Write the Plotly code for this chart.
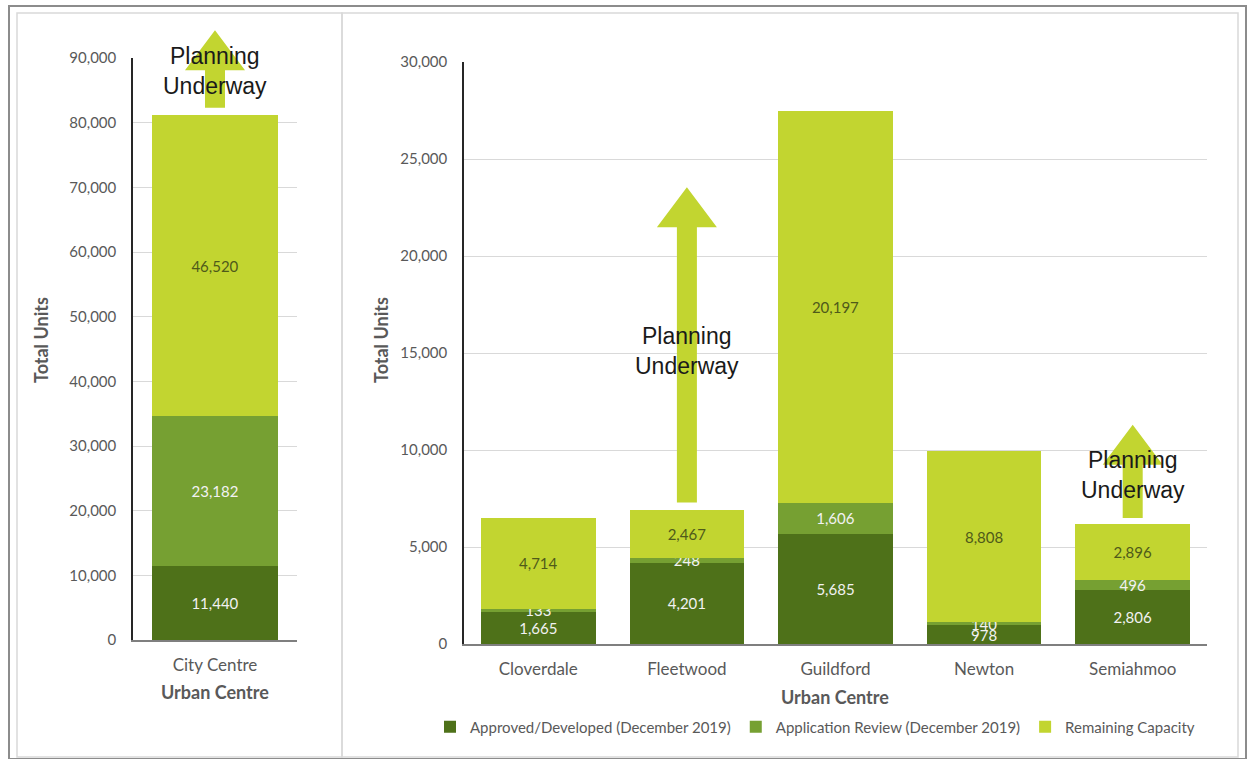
import plotly.graph_objects as go

W, H = 1247, 759
FONT = "Lato"
ARROW_FONT = "Liberation Sans"

# ---------------- data ----------------
series_names = ["Approved/Developed (December 2019)",
                "Application Review (December 2019)",
                "Remaining Capacity"]

city_centre = ["City Centre"]
city_approved = [11440]
city_review = [23182]
city_remaining = [46520]

centres = ["Cloverdale", "Fleetwood", "Guildford", "Newton", "Semiahmoo"]
approved = [1665, 4201, 5685, 978, 2806]
review = [133, 248, 1606, 140, 496]
remaining = [4714, 2467, 20197, 8808, 2896]

left_ticks = [0, 10000, 20000, 30000, 40000, 50000, 60000, 70000, 80000, 90000]
right_ticks = [0, 5000, 10000, 15000, 20000, 25000, 30000]

# "Planning Underway" arrows: (panel, category index, base value, tip value, label value)
arrows = [
    ("left", 0, 82300, 94300, 88000),
    ("right", 1, 7300, 23550, 15100),
    ("right", 4, 6500, 11300, 8700),
]

# ---------------- styles ----------------
colors = ["#4E7119", "#76A032", "#C2D530"]
label_colors = ["#F2F2F2", "#F2F2F2", "#4F5A1A"]
GREY = "#595959"

# plot areas in pixels (left, right, bottom, top)
panels = {
    "left": dict(x0=133, x1=297, yb=640, yt=58, n=1, ymax=90000, xa="x", ya="y"),
    "right": dict(x0=464, x1=1207, yb=644, yt=62, n=5, ymax=30000, xa="x2", ya="y2"),
}


def px_x(px):
    return px / W


def px_y(py):
    return 1 - py / H


fig = go.Figure()


def add_stack(xs, vals_list, xa, ya, showlegend):
    for name, vals, c, tc in zip(series_names, vals_list, colors, label_colors):
        fig.add_trace(go.Bar(
            x=xs, y=vals, name=name,
            marker=dict(color=c, line=dict(width=0)),
            width=0.77, xaxis=xa, yaxis=ya,
            showlegend=showlegend, legendgroup=name,
            texttemplate="%{y:,}", textposition="inside",
            insidetextanchor="middle", constraintext="none", textangle=0,
            textfont=dict(family=FONT, size=15, color=tc),
            hoverinfo="skip",
        ))


add_stack(list(range(len(city_centre))), [city_approved, city_review, city_remaining], "x", "y", False)
add_stack(list(range(len(centres))), [approved, review, remaining], "x2", "y2", True)

axis_common = dict(showgrid=False, showline=True, linecolor="#7F7F7F", linewidth=1.5,
                   ticks="", tickfont=dict(family=FONT, size=17, color=GREY),
                   zeroline=False, fixedrange=True, ticklabelstandoff=9, automargin=False)
yaxis_common = dict(showgrid=True, gridcolor="#D9D9D9", gridwidth=1, showline=True,
                    linecolor="#262626", linewidth=1.5, ticks="", tickformat=",",
                    tickfont=dict(family=FONT, size=15, color=GREY), zeroline=False,
                    fixedrange=True, ticklabelstandoff=12, automargin=False)

L, R = panels["left"], panels["right"]
fig.update_layout(
    width=W, height=H,
    margin=dict(l=0, r=0, t=0, b=0, pad=0, autoexpand=False),
    paper_bgcolor="white", plot_bgcolor="white",
    barmode="stack",
    xaxis=dict(axis_common, domain=[px_x(L["x0"]), px_x(L["x1"])], anchor="y",
               range=[-0.5, 0.5], tickvals=list(range(len(city_centre))), ticktext=city_centre),
    yaxis=dict(yaxis_common, domain=[px_y(L["yb"]), px_y(L["yt"])], anchor="x",
               range=[0, L["ymax"]], tickvals=left_ticks),
    xaxis2=dict(axis_common, domain=[px_x(R["x0"]), px_x(R["x1"])], anchor="y2",
                range=[-0.5, len(centres) - 0.5], tickvals=list(range(len(centres))), ticktext=centres),
    yaxis2=dict(yaxis_common, domain=[px_y(R["yb"]), px_y(R["yt"])], anchor="x2",
                range=[0, R["ymax"]], tickvals=right_ticks),
    legend=dict(orientation="h", x=px_x(815), xanchor="center", y=px_y(727), yanchor="middle",
                font=dict(family=FONT, size=15, color=GREY), bgcolor="rgba(0,0,0,0)",
                traceorder="normal"),
    showlegend=True,
)

shapes = []
# frames
shapes.append(dict(type="rect", xref="paper", yref="paper", x0=px_x(9), x1=px_x(1246), y0=px_y(759), y1=px_y(6),
                   line=dict(color="#8C8C8C", width=2), layer="below"))
shapes.append(dict(type="rect", xref="paper", yref="paper", x0=px_x(17), x1=px_x(342), y0=px_y(757), y1=px_y(13),
                   line=dict(color="#D9D9D9", width=1.5), layer="below"))
shapes.append(dict(type="rect", xref="paper", yref="paper", x0=px_x(342), x1=px_x(1238), y0=px_y(757), y1=px_y(13),
                   line=dict(color="#D9D9D9", width=1.5), layer="below"))

annotations = []
for panel, idx, base, tip, label_v in arrows:
    p = panels[panel]
    cx = p["x0"] + (idx + 0.5) / p["n"] * (p["x1"] - p["x0"])

    def vy(v, p=p):
        return p["yb"] - v / p["ymax"] * (p["yb"] - p["yt"])

    y_base, y_tip = vy(base), vy(tip)
    head_h, head_hw, shaft_hw = 40, 30, 10
    y_head = y_tip + head_h
    pts = [(cx - shaft_hw, y_base), (cx - shaft_hw, y_head), (cx - head_hw, y_head), (cx, y_tip),
           (cx + head_hw, y_head), (cx + shaft_hw, y_head), (cx + shaft_hw, y_base)]
    path = "M " + " L ".join(f"{px_x(a):.5f},{px_y(b):.5f}" for a, b in pts) + " Z"
    shapes.append(dict(type="path", xref="paper", yref="paper", path=path,
                       fillcolor=colors[2], line=dict(width=0), layer="above"))
    annotations.append(dict(xref=p["xa"], yref=p["ya"], x=idx, y=label_v, text="Planning<br>Underway",
                            showarrow=False, font=dict(family=ARROW_FONT, size=23, color="#1A1A1A"),
                            xanchor="center", yanchor="middle"))

# axis titles
title_font_y = dict(family=FONT, size=18, color=GREY)
title_font_x = dict(family=FONT, size=18, color=GREY)
annotations += [
    dict(xref="paper", yref="paper", x=px_x(41), y=px_y(340), text="<b>Total Units</b>", textangle=-90,
         showarrow=False, font=title_font_y, xanchor="center", yanchor="middle"),
    dict(xref="paper", yref="paper", x=px_x(381), y=px_y(340), text="<b>Total Units</b>", textangle=-90,
         showarrow=False, font=title_font_y, xanchor="center", yanchor="middle"),
    dict(xref="paper", yref="paper", x=px_x(215), y=px_y(692), text="<b>Urban Centre</b>",
         showarrow=False, font=title_font_x, xanchor="center", yanchor="middle"),
    dict(xref="paper", yref="paper", x=px_x(835), y=px_y(697), text="<b>Urban Centre</b>",
         showarrow=False, font=title_font_x, xanchor="center", yanchor="middle"),
]

fig.update_layout(shapes=shapes, annotations=annotations)
fig.write_html(
    "out.html",
    config={"displayModeBar": False},
    post_script=(
        "document.documentElement.style.margin='0';document.body.style.margin='0';"
        "document.body.style.overflow='hidden';"
        "var d=document.getElementById('{plot_id}');"
        "d.style.position='fixed';d.style.top='0px';d.style.left='0px';"
    ),
)
